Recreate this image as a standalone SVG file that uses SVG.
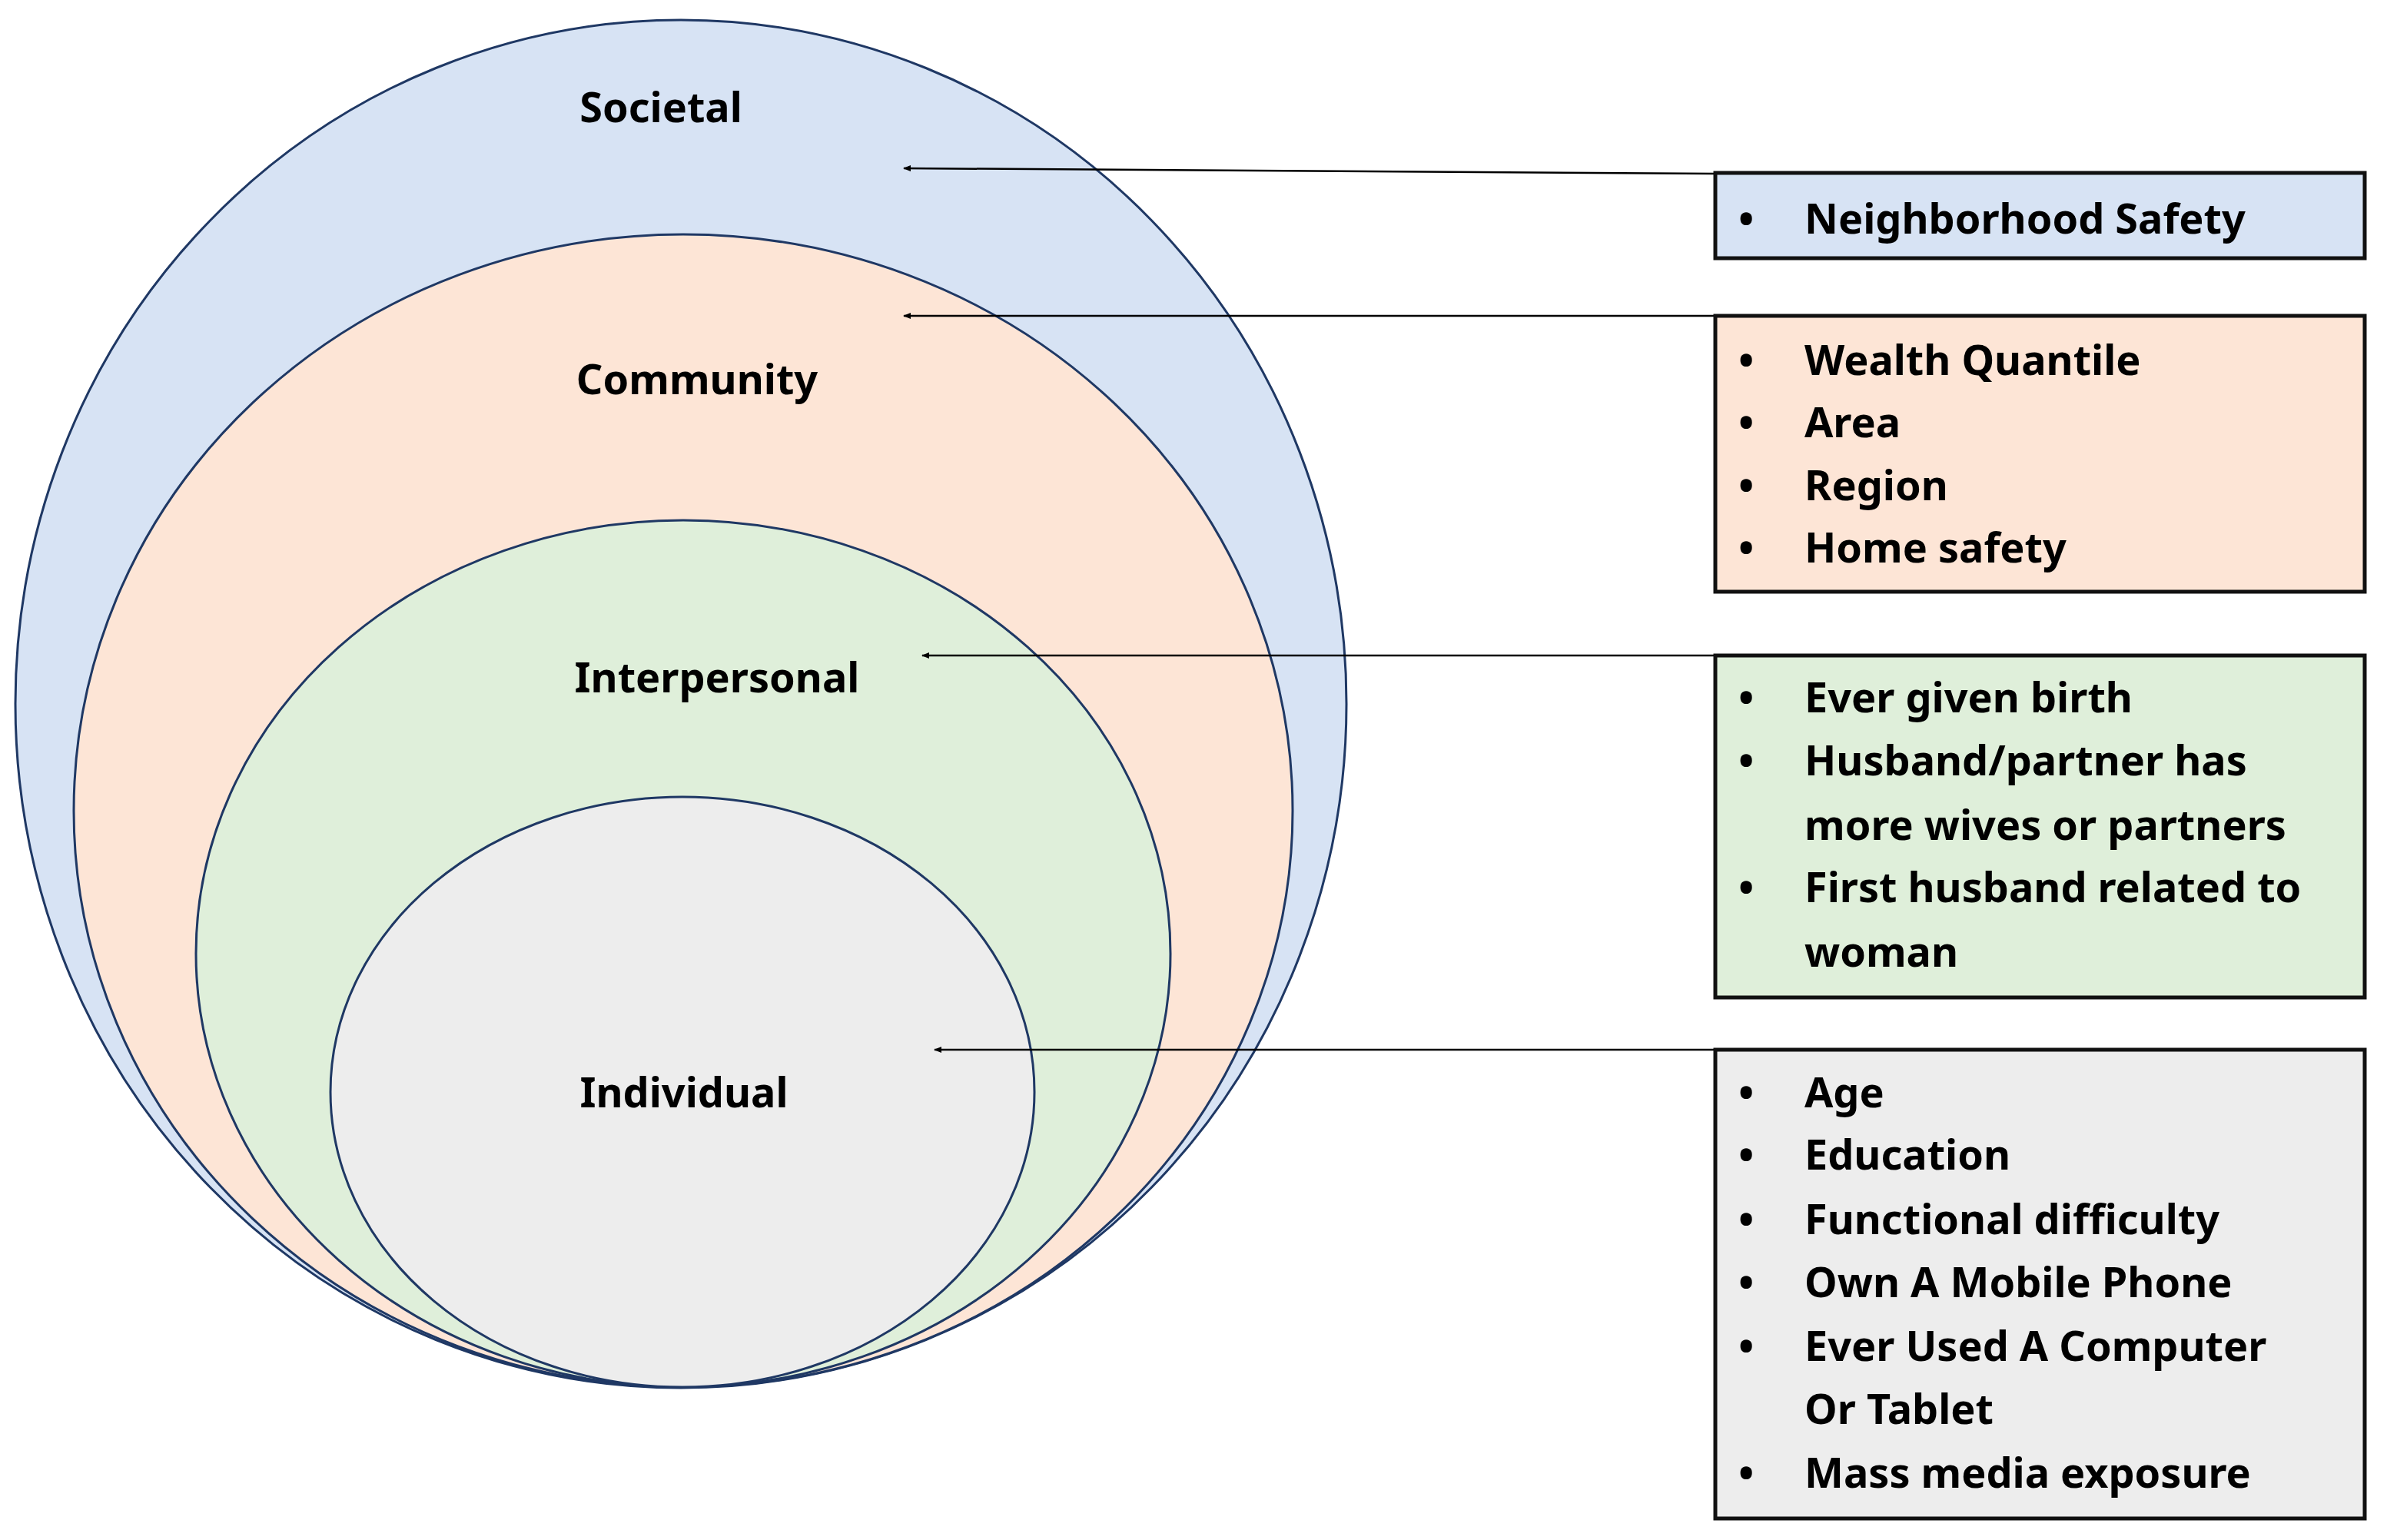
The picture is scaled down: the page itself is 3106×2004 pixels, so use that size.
<svg xmlns="http://www.w3.org/2000/svg" width="3106" height="2004" viewBox="0 0 3106 2004">
<defs>
<style>
.e{stroke:#1f3864;stroke-width:3}
.b{stroke:#111;stroke-width:5}
text{font-family:"Noto Sans","Open Sans",sans-serif;font-weight:bold;font-size:54px;fill:#000}
.l{text-anchor:middle}
.c{stroke:#000;stroke-width:2.5;fill:none;marker-end:url(#a)}
</style>
<marker id="a" markerWidth="10" markerHeight="8" refX="9" refY="4" orient="auto" markerUnits="userSpaceOnUse" viewBox="0 0 10 8"><path d="M0,4 L10,0 L10,8 z" fill="#000" transform="rotate(180 5 4)"/></marker>
</defs>
<rect width="3106" height="2004" fill="#fff"/>
<g id="societal"><ellipse class="e" cx="886" cy="916" rx="866" ry="890" fill="#d7e3f4"/><text class="l" x="860" y="159">Societal</text></g>
<g id="community"><ellipse class="e" cx="889" cy="1055" rx="793" ry="750" fill="#fde5d6"/><text class="l" x="907" y="513">Community</text></g>
<g id="interpersonal"><ellipse class="e" cx="889" cy="1241" rx="634" ry="564" fill="#dfefda"/><text class="l" x="933" y="901">Interpersonal</text></g>
<g id="individual"><ellipse class="e" cx="888" cy="1421" rx="458" ry="384" fill="#ededed"/><text class="l" x="890" y="1441">Individual</text></g>
<g id="connectors">
<path class="c" d="M2231,226 L1176,219"/>
<path class="c" d="M2231,411 L1176,411"/>
<path class="c" d="M2231,853 L1200,853"/>
<path class="c" d="M2231,1366 L1216,1366"/>
</g>
<g id="box-societal"><rect class="b" x="2232" y="225" width="845" height="111" fill="#d7e3f4"/>
<text x="2262" y="304">•</text><text x="2348" y="304">Neighborhood Safety</text></g>
<g id="box-community"><rect class="b" x="2232" y="411" width="845" height="359" fill="#fde5d6"/>
<text x="2262" y="488">•</text><text x="2348" y="488">Wealth Quantile</text>
<text x="2262" y="569">•</text><text x="2348" y="569">Area</text>
<text x="2262" y="651">•</text><text x="2348" y="651">Region</text>
<text x="2262" y="732">•</text><text x="2348" y="732">Home safety</text></g>
<g id="box-interpersonal"><rect class="b" x="2232" y="853" width="845" height="445" fill="#dfefda"/>
<text x="2262" y="927">•</text><text x="2348" y="927">Ever given birth</text>
<text x="2262" y="1009">•</text><text x="2348" y="1009">Husband/partner has</text>
<text x="2348" y="1093">more wives or partners</text>
<text x="2262" y="1174">•</text><text x="2348" y="1174">First husband related to</text>
<text x="2348" y="1258">woman</text></g>
<g id="box-individual"><rect class="b" x="2232" y="1366" width="845" height="610" fill="#ededed"/>
<text x="2262" y="1441">•</text><text x="2348" y="1441">Age</text>
<text x="2262" y="1522">•</text><text x="2348" y="1522">Education</text>
<text x="2262" y="1606">•</text><text x="2348" y="1606">Functional difficulty</text>
<text x="2262" y="1688">•</text><text x="2348" y="1688">Own A Mobile Phone</text>
<text x="2262" y="1771">•</text><text x="2348" y="1771">Ever Used A Computer</text>
<text x="2348" y="1853">Or Tablet</text>
<text x="2262" y="1936">•</text><text x="2348" y="1936">Mass media exposure</text></g>
</svg>
